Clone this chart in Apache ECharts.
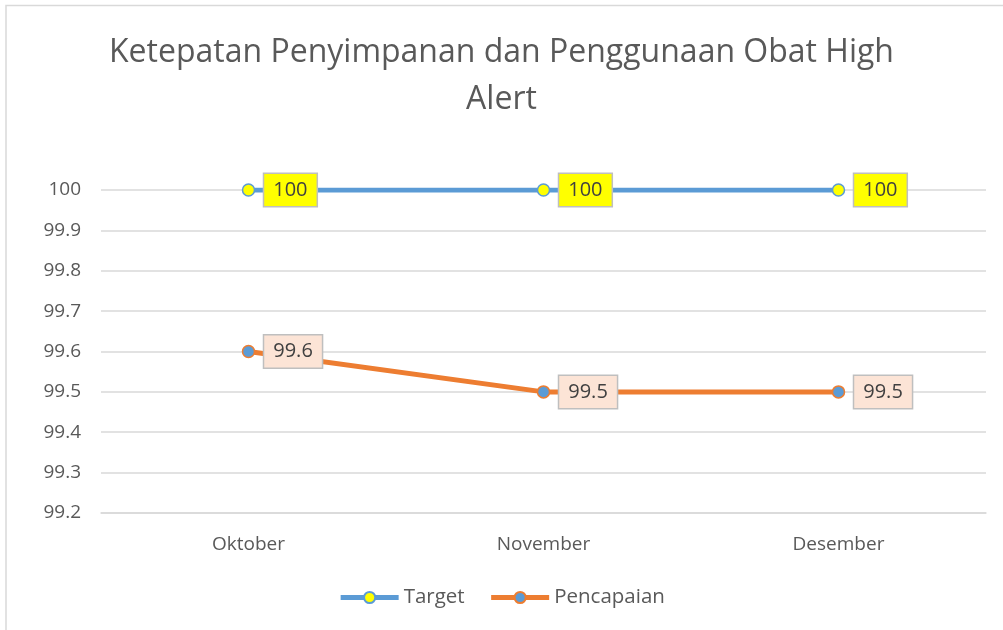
<!DOCTYPE html>
<html>
<head>
<meta charset="utf-8">
<script src="https://cdn.jsdelivr.net/npm/echarts@6/dist/echarts.min.js"></script>
<style>
html, body { margin: 0; padding: 0; background: #fff; }
#chart { width: 1003px; height: 630px; }
</style>
</head>
<body>
<div id="chart"></div>
<script>
var months = ['Oktober', 'November', 'Desember'];
var target = [100, 100, 100];
var pencapaian = [99.6, 99.5, 99.5];

var font = '"Open Sans", "Noto Sans", sans-serif';
var myChart = echarts.init(document.getElementById('chart'));

var label_style = function(bg){
    return {
        show: true,
        position: 'right',
        distance: 9,
        fontFamily: font,
        fontSize: 20,
        color: '#404040',
        backgroundColor: bg,
        borderColor: '#bfbfbf',
        borderWidth: 1.5,
        padding: [7, 9, 5, 9]
    };
};

var option = {
    animation: false,
    graphic: [{
        type: 'polyline',
        shape: { points: [[6, 640], [6, 5.5], [1010, 5.5]] },
        style: { stroke: '#d9d9d9', lineWidth: 1.5, fill: null }
    }],
    title: {
        text: 'Ketepatan Penyimpanan dan Penggunaan Obat High\nAlert',
        left: 'center',
        top: 24,
        textStyle: {
            fontFamily: font,
            fontSize: 32,
            fontWeight: 'normal',
            color: '#595959',
            lineHeight: 47
        }
    },
    legend: {
        bottom: 17,
        left: 'center',
        itemWidth: 58,
        itemHeight: 14,
        itemGap: 24,
        lineStyle: { width: 5 },
        textStyle: { fontFamily: font, fontSize: 20.5, color: '#595959' },
        data: ['Target', 'Pencapaian']
    },
    grid: { left: 101, right: 17, top: 190, bottom: 117 },
    xAxis: {
        type: 'category',
        data: months,
        boundaryGap: true,
        axisLine: { lineStyle: { color: '#d9d9d9', width: 1.5 } },
        axisTick: { show: false },
        axisLabel: { fontFamily: font, fontSize: 19, color: '#595959', margin: 22 }
    },
    yAxis: {
        type: 'value',
        min: 99.2,
        max: 100,
        interval: 0.1,
        axisLine: { show: false },
        axisTick: { show: false },
        splitLine: { lineStyle: { color: '#d9d9d9', width: 1.5 } },
        axisLabel: {
            fontFamily: font, fontSize: 19, color: '#595959', margin: 20,
            formatter: function(v){ return String(+v.toFixed(1)); }
        }
    },
    series: [{
        name: 'Target',
        type: 'line',
        data: target,
        symbol: 'circle',
        symbolSize: 12,
        lineStyle: { color: '#5b9bd5', width: 5 },
        itemStyle: { color: '#ffff00', borderColor: '#5b9bd5', borderWidth: 1.5 },
        label: label_style('#ffff00')
    }, {
        name: 'Pencapaian',
        type: 'line',
        data: pencapaian,
        symbol: 'circle',
        symbolSize: 12,
        lineStyle: { color: '#ed7d31', width: 5 },
        itemStyle: { color: '#5b9bd5', borderColor: '#ed7d31', borderWidth: 1.5 },
        label: label_style('#fce4d6')
    }]
};

myChart.setOption(option);
</script>
</body>
</html>
